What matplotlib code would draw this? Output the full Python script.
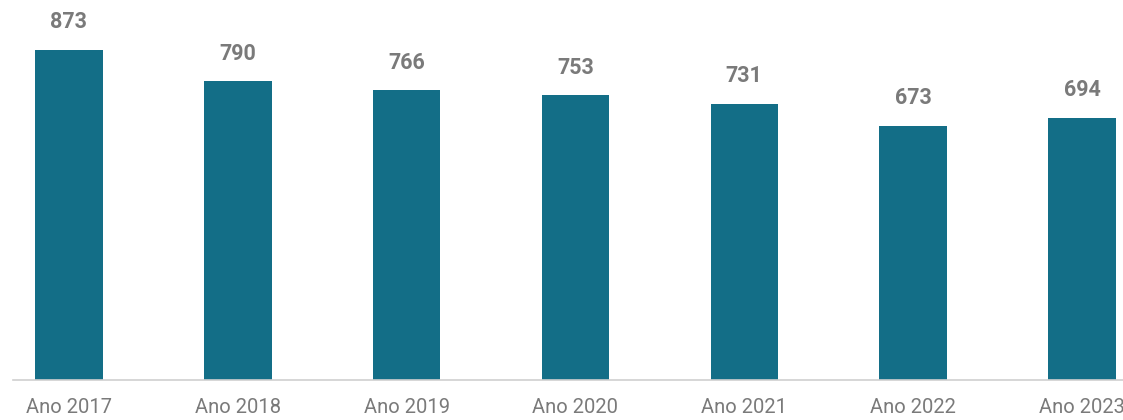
import matplotlib
matplotlib.use("Agg")
import matplotlib.pyplot as plt
from matplotlib import font_manager

anos = ["Ano 2017", "Ano 2018", "Ano 2019", "Ano 2020", "Ano 2021", "Ano 2022", "Ano 2023"]
valores = [873, 790, 766, 753, 731, 673, 694]

nomes = {f.name for f in font_manager.fontManager.ttflist}
fonte = "Liberation Sans Narrow" if "Liberation Sans Narrow" in nomes else "Roboto"
plt.rcParams["font.family"] = [fonte, "DejaVu Sans"]

cor_barra = "#136E87"
cor_texto = "#7a7a7a"

fig = plt.figure(figsize=(11.23, 4.2), dpi=100)
ax = fig.add_axes([13 / 1123, 40 / 420, 1110 / 1123, 380 / 420])

x = range(len(anos))
barras = ax.bar(x, valores, width=0.40, color=cor_barra)
for b, v in zip(barras, valores):
    ax.annotate(str(v), (b.get_x() + b.get_width() / 2, v), xytext=(0, 20),
                textcoords="offset points", ha="center", va="center",
                fontsize=15.5, fontweight="bold", color=cor_texto)

ax.set_xlim(-0.331, 6.243)
ax.set_ylim(0, 873 * 380 / 330)
ax.set_xticks(list(x))
ax.set_xticklabels(anos, fontsize=14.5, color=cor_texto)
ax.tick_params(axis="x", length=0, pad=13)
ax.set_yticks([])
for lado in ["top", "right", "left"]:
    ax.spines[lado].set_visible(False)
ax.spines["bottom"].set_color("#d0d0d0")
ax.spines["bottom"].set_linewidth(1.2)

fig.savefig("out.png", dpi=100)
